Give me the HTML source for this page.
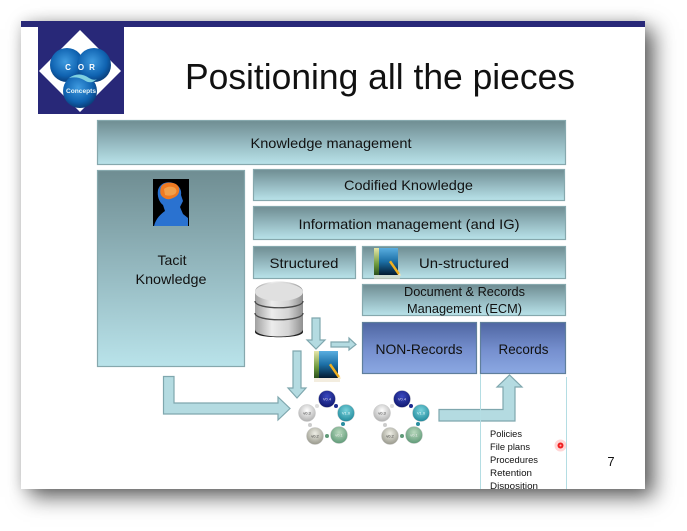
<!DOCTYPE html>
<html>
<head>
<meta charset="utf-8">
<style>
html,body{margin:0;padding:0;background:#fff;width:687px;height:531px;overflow:hidden}
#s{position:absolute;left:21px;top:21px;width:624px;height:468px;background:#fff;box-shadow:9px 8px 20px rgba(0,0,0,.62),0 0 12px rgba(0,0,0,.12)}
svg{position:absolute;left:0;top:0;filter:blur(.35px)}
text{font-family:"Liberation Sans",sans-serif;fill:#111}
</style>
</head>
<body>
<div id="s"></div>
<svg width="687" height="531" viewBox="0 0 687 531">
<defs>
<clipPath id="slide"><rect x="21" y="21" width="624" height="468"/></clipPath>
<linearGradient id="t" x1="0" y1="0" x2="0" y2="1"><stop offset="0" stop-color="#6f8d92"/><stop offset=".5" stop-color="#94b8bf"/><stop offset="1" stop-color="#b9e3ea"/></linearGradient>
<linearGradient id="b" x1="0" y1="0" x2="0" y2="1"><stop offset="0" stop-color="#4f66a2"/><stop offset=".55" stop-color="#7690cf"/><stop offset="1" stop-color="#8ba8e2"/></linearGradient>
<linearGradient id="db" x1="0" y1="0" x2="1" y2="0"><stop offset="0" stop-color="#a0a0a0"/><stop offset=".35" stop-color="#ececec"/><stop offset=".7" stop-color="#d4d4d4"/><stop offset="1" stop-color="#909090"/></linearGradient>
<linearGradient id="bk" x1="0" y1="0" x2="0" y2="1"><stop offset="0" stop-color="#5aaee0"/><stop offset=".5" stop-color="#1c6fa6"/><stop offset="1" stop-color="#031a30"/></linearGradient>
<linearGradient id="sp" x1="0" y1="0" x2="0" y2="1"><stop offset="0" stop-color="#e6e6a8"/><stop offset=".6" stop-color="#6d9a3c"/><stop offset="1" stop-color="#2a4f1c"/></linearGradient>
<radialGradient id="ball" cx=".45" cy=".4" r=".6"><stop offset="0" stop-color="#3f9be0"/><stop offset=".7" stop-color="#0f62b0"/><stop offset="1" stop-color="#0a3f7c"/></radialGradient>
<radialGradient id="c1" cx=".5" cy=".35" r=".65"><stop offset="0" stop-color="#3a48c0"/><stop offset="1" stop-color="#10186e"/></radialGradient>
<radialGradient id="c2" cx=".5" cy=".35" r=".65"><stop offset="0" stop-color="#79d3dc"/><stop offset="1" stop-color="#228a9c"/></radialGradient>
<radialGradient id="c3" cx=".5" cy=".35" r=".65"><stop offset="0" stop-color="#b9d8bd"/><stop offset="1" stop-color="#5f9a78"/></radialGradient>
<radialGradient id="c4" cx=".5" cy=".35" r=".65"><stop offset="0" stop-color="#efefe6"/><stop offset="1" stop-color="#98988c"/></radialGradient>
<radialGradient id="c5" cx=".5" cy=".35" r=".65"><stop offset="0" stop-color="#fff"/><stop offset="1" stop-color="#b0b0b0"/></radialGradient>
<g id="book">
<rect x="0" y="0" width="5" height="27" fill="url(#sp)"/>
<rect x="5" y="0" width="19" height="27" fill="url(#bk)"/>
<path d="M15 14l2-1.500 9 13-2 1.500z" fill="#f0b020"/>
<path d="M24 26.500l2-1.500 .8 3z" fill="#fbe6b0"/>
<rect x="0" y="27" width="26" height="4" fill="#e8dcc0" opacity=".5"/>
</g>
<g id="cyc">
<g stroke="#c8c8c8" stroke-width=".5">
<circle cx="0" cy="0" r="8.500" fill="url(#c1)"/>
<circle cx="19" cy="14" r="8.500" fill="url(#c2)"/>
<circle cx="12" cy="36" r="8.500" fill="url(#c3)"/>
<circle cx="-12" cy="37" r="8.500" fill="url(#c4)"/>
<circle cx="-20" cy="14" r="8.500" fill="url(#c5)"/>
</g>
<circle cx="9" cy="7" r="2" fill="#1c2c90"/><circle cx="16" cy="25" r="2" fill="#2a8ea0"/><circle cx="0" cy="37" r="2" fill="#5f9a78"/><circle cx="-17" cy="26" r="2" fill="#ccc"/><circle cx="-10" cy="7" r="2" fill="#ddd"/>
<g style="font-size:4px" text-anchor="middle">
<text x="0" y="1.500" style="fill:#dde">V0.4</text><text x="19" y="15.500" style="fill:#eff">V1.0</text><text x="12" y="37.500" style="fill:#eee">v0.1</text><text x="-12" y="38.500" style="fill:#333">v0.2</text><text x="-20" y="15.500" style="fill:#333">v0.3</text>
</g>
</g>
</defs>

<rect x="21" y="21" width="624" height="6" fill="#282878"/>

<!-- logo -->
<rect x="38" y="27" width="86" height="87" fill="#282878"/>
<path d="M80 30L121 71 80 112 39 71z" fill="#fff"/>
<circle cx="67" cy="65" r="17" fill="url(#ball)"/>
<circle cx="94" cy="65" r="17" fill="url(#ball)"/>
<circle cx="80" cy="91" r="17" fill="url(#ball)"/>
<path d="M69 78q10-7 20 0 5 3 8 1-6 6-13 1-7-4-15-2z" fill="#7fd0e0"/>
<g style="font-size:8px;font-weight:bold" text-anchor="middle">
<text x="68" y="70" style="fill:#fff">C</text>
<text x="81" y="70" style="fill:#fff">O</text>
<text x="92" y="70" style="fill:#fff">R</text>
</g>
<text x="66" y="93" style="font-size:6.500px;font-weight:bold;fill:#e8f6fa" textLength="30" lengthAdjust="spacingAndGlyphs">Concepts</text>

<text x="185" y="89" style="font-size:36px;fill:#111" textLength="390" lengthAdjust="spacingAndGlyphs">Positioning all the pieces</text>

<!-- boxes -->
<g stroke="#86a8ad" stroke-width="1.200" fill="url(#t)">
<rect x="97.500" y="120.500" width="468" height="44"/>
<rect x="97.500" y="170.500" width="147" height="196"/>
<rect x="253.500" y="169.500" width="311" height="31"/>
<rect x="253.500" y="206.500" width="312" height="33"/>
<rect x="253.500" y="246.500" width="102" height="32"/>
<rect x="362.500" y="246.500" width="203" height="32"/>
<rect x="362.500" y="284.500" width="203" height="31"/>
</g>
<g stroke="#5f7f9c" stroke-width="1.200" fill="url(#b)">
<rect x="362.500" y="322.500" width="114" height="51"/>
<rect x="480.500" y="322.500" width="85" height="51"/>
</g>

<!-- arrows -->
<g fill="#b4dbe1" stroke="#7fa7ae" stroke-width="1.200" stroke-linejoin="miter">
<path d="M163.500 376.500H174V403H278V397L290 408.500 278 420V414H163.500z"/>
<path d="M312 318H320V340H325L316 349 307 340H312z"/>
<path d="M331 342H349V338L356 344.500 349 350V347H331z"/>
<path d="M293 351H301V388H306L297 398 288 388H293z"/>
<path d="M439 409.500H503V387H497L509.500 375 522 387H515V421H439z"/>
</g>

<!-- records lines -->
<path d="M480.500 374V489M566.500 377V489" stroke="#b4dde3" stroke-width="1" fill="none"/>

<!-- brain -->
<rect x="153" y="179" width="36" height="47" fill="#000"/>
<path d="M154 226c2-8 7-12 11-15l-2-6c-4-3-6-9-5-15 2-7 9-9 15-7 6 2 9 7 8 12l2 6-3 6 3 7 5 4v8z" fill="#2a72d0"/>
<path d="M161 187c2-4 7-5 12-4 5 1 7 5 6 9-1 4-5 6-9 7-3 1-7-1-9-4-1-2-1-5 0-8z" fill="#ee7a22"/>
<path d="M164 189c3-3 8-3 11-1 2 2 2 4 0 6-3 2-7 2-10 1z" fill="#f2a04a"/>

<!-- database -->
<path d="M255 292c0-14 48-14 48 0v37c0 10-48 10-48 0z" fill="url(#db)"/>
<ellipse cx="279" cy="292" rx="24" ry="9" fill="#e0e0e0"/>
<path d="M255 329c0 10 48 10 48 0v3c0 7-48 7-48 0z" fill="#222"/>
<path d="M255 301c0 9 48 9 48 0M255 313c0 9 48 9 48 0" stroke="#4a4a4a" stroke-width="1.300" fill="none"/>

<use href="#book" x="374" y="248"/>
<use href="#book" x="314" y="351"/>
<use href="#cyc" x="327" y="399"/>
<use href="#cyc" x="402" y="399"/>

<!-- labels -->
<g style="font-size:14px" text-anchor="middle">
<text x="331" y="148" textLength="161" lengthAdjust="spacingAndGlyphs">Knowledge management</text>
<text x="408.500" y="190" textLength="129" lengthAdjust="spacingAndGlyphs">Codified Knowledge</text>
<text x="409" y="229" textLength="221" lengthAdjust="spacingAndGlyphs">Information management (and IG)</text>
<text x="172" y="265" textLength="29" lengthAdjust="spacingAndGlyphs">Tacit</text>
<text x="171" y="284" textLength="71" lengthAdjust="spacingAndGlyphs">Knowledge</text>
<text x="304" y="268" textLength="69" lengthAdjust="spacingAndGlyphs">Structured</text>
<text x="464" y="268" textLength="90" lengthAdjust="spacingAndGlyphs">Un-structured</text>
<text x="419" y="354" textLength="87" lengthAdjust="spacingAndGlyphs">NON-Records</text>
<text x="523.500" y="354" textLength="50" lengthAdjust="spacingAndGlyphs">Records</text>
</g>
<g style="font-size:12.500px" text-anchor="middle">
<text x="464.500" y="296" textLength="121" lengthAdjust="spacingAndGlyphs">Document &amp; Records</text>
<text x="464.500" y="313" textLength="115" lengthAdjust="spacingAndGlyphs">Management (ECM)</text>
</g>
<g style="font-size:9.500px" clip-path="url(#slide)">
<text x="490" y="437" textLength="32" lengthAdjust="spacingAndGlyphs">Policies</text>
<text x="490" y="450" textLength="40" lengthAdjust="spacingAndGlyphs">File plans</text>
<text x="490" y="463" textLength="48" lengthAdjust="spacingAndGlyphs">Procedures</text>
<text x="490" y="476" textLength="42" lengthAdjust="spacingAndGlyphs">Retention</text>
<text x="490" y="489" textLength="48" lengthAdjust="spacingAndGlyphs">Disposition</text>
</g>
<text x="611" y="466" style="font-size:13px" text-anchor="middle">7</text>

<!-- pointer -->
<circle cx="560.500" cy="445.500" r="6" fill="#ff5a5a" opacity=".25"/>
<circle cx="560.500" cy="445.500" r="3" fill="#f02020"/>
<circle cx="560.500" cy="445.500" r="1" fill="#ffb0b0"/>
</svg>
</body>
</html>
